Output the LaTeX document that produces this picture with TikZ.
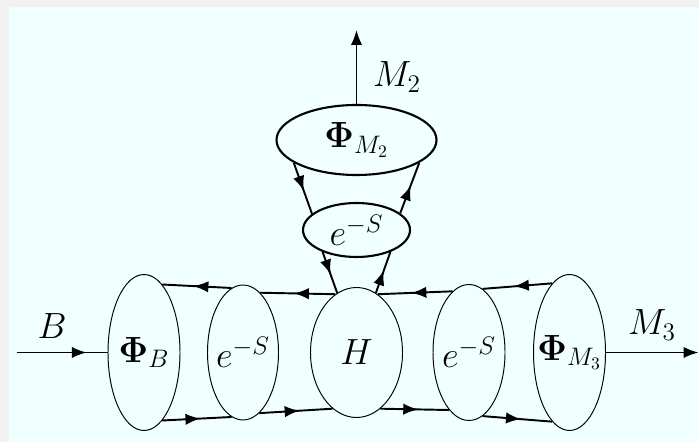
\documentclass[tikz,border=0pt]{standalone}
\usetikzlibrary{shapes.geometric,arrows.meta,decorations.markings}
\definecolor{bgcyan}{HTML}{F0FFFF}
\definecolor{edgegray}{HTML}{F2F2F2}
\tikzset{arrowat/.style={postaction={decorate,decoration={markings,mark=at position #1 with {\arrow{>}}}}}}
\begin{document}
\begin{tikzpicture}[font=\fontsize{20}{23}\selectfont,>={Latex[length=8.5pt,width=6.5pt]}]
  \tikzstyle{E}=[draw,ellipse,inner sep=0pt,line width=0.55pt,fill=bgcyan]
  \tikzstyle{EE}=[E,line width=1.2pt]
  \tikzstyle{L}=[line width=1.1pt]
  \useasboundingbox (0,0) rectangle (13.98,8.84);
  \fill[edgegray] (0,0) rectangle (13.98,8.84);
  \fill[bgcyan] (0.18,0) rectangle (13.98,8.70);

  \node[E,minimum width=1.44cm,minimum height=3.12cm,label=center:{$\mathbf{\Phi}_B$}] (phiB) at (2.88,1.79) {};
  \node[E,minimum width=1.42cm,minimum height=2.70cm,label=center:{$e^{-S}$}] (esL) at (4.86,1.79) {};
  \node[E,minimum width=1.84cm,minimum height=2.60cm,label=center:{$H$}] (H) at (7.13,1.79) {};
  \node[E,minimum width=1.44cm,minimum height=2.72cm,label=center:{$e^{-S}$}] (esR) at (9.38,1.79) {};
  \node[E,minimum width=1.44cm,minimum height=3.12cm,label=center:{$\mathbf{\Phi}_{M_3}$}] (phiM3) at (11.39,1.79) {};
  \node[EE,minimum width=2.14cm,minimum height=1.08cm,label=center:{$e^{-S}$}] (esT) at (7.13,4.24) {};
  \node[EE,minimum width=3.20cm,minimum height=1.40cm,label=center:{$\mathbf{\Phi}_{M_2}$}] (phiM2) at (7.13,6.04) {};

  \node (Blab) at (1.04,2.32) {$B$};
  \node (M2lab) at (7.94,7.30) {$M_2$};
  \node (M3lab) at (13.04,2.34) {$M_3$};
  \coordinate (Bin) at (0.34,1.79);
  \coordinate (M3out) at (13.97,1.79);
  \coordinate (M2out) at (7.13,8.24);

  \draw[L,arrowat=0.77] (Bin) -- (phiB.west);
  \draw[L,->] (phiM3.east) -- (M3out);
  \draw[L,->] (phiM2.north) -- (M2out);

  \draw[L,arrowat=0.55] (H.110) -- (esL.74);
  \draw[L,arrowat=0.55] (esL.100) -- (phiB.75);
  \draw[L,arrowat=0.55] (phiB.285) -- (esL.260);
  \draw[L,arrowat=0.55] (esL.285) -- (H.247);

  \draw[L,arrowat=0.55] (phiM3.104) -- (esR.78);
  \draw[L,arrowat=0.55] (esR.105) -- (H.70);
  \draw[L,arrowat=0.55] (H.293) -- (esR.251);
  \draw[L,arrowat=0.55] (esR.282) -- (phiM3.256);

  \draw[L,arrowat=0.55] (phiM2.200) -- (esT.160);
  \draw[L,arrowat=0.55] (esT.21) -- (phiM2.340);
  \draw[L,arrowat=0.55] (esT.213) -- (H.108);
  \draw[L,arrowat=0.55] (H.72) -- (esT.327);
\end{tikzpicture}
\end{document}
